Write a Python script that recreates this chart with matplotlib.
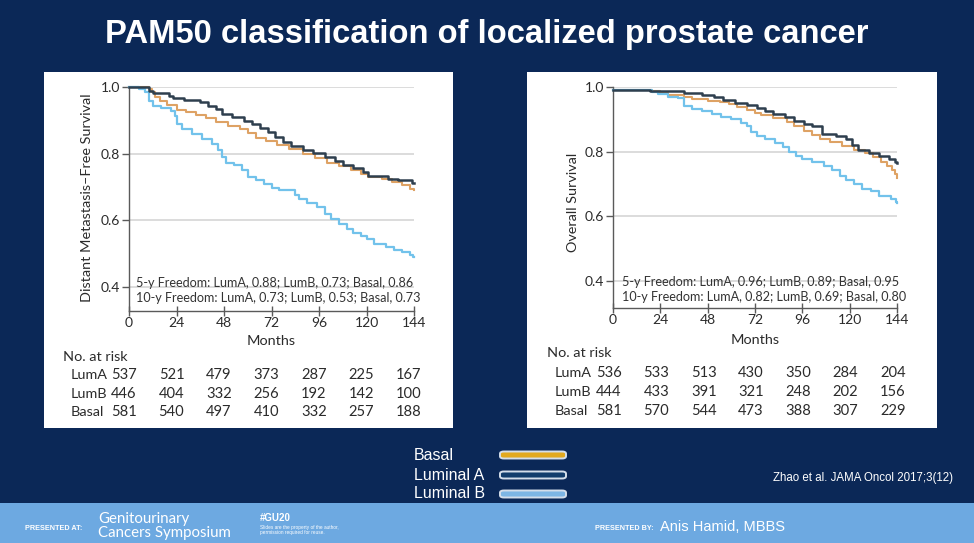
import matplotlib
matplotlib.use("Agg")
import matplotlib.pyplot as plt
from matplotlib import transforms
from matplotlib.patches import Rectangle, FancyBboxPatch

# ---------------- data ----------------
TITLE = "PAM50 classification of localized prostate cancer"
month_ticks = [0, 24, 48, 72, 96, 120, 144]
surv_ticks = [0.4, 0.6, 0.8, 1.0]
groups = ["LumA", "LumB", "Basal"]

# Left panel: distant metastasis-free survival (KM steps)
l_lumA_m = [0, 10, 12, 20, 22, 28, 36, 40, 44, 47, 52, 58, 62, 66, 70, 74, 78, 82, 88, 93, 99, 104, 108, 113, 118, 121, 131, 136, 143, 144]
l_lumA_s = [1.0, 0.99, 0.983, 0.975, 0.968, 0.963, 0.955, 0.945, 0.935, 0.92, 0.912, 0.9, 0.89, 0.877, 0.865, 0.85, 0.835, 0.822, 0.812, 0.802, 0.79, 0.778, 0.766, 0.756, 0.745, 0.732, 0.725, 0.72, 0.713, 0.713]
l_lumB_m = [0, 5, 8, 10, 12, 16, 21, 23, 24.5, 27, 32, 37, 42, 45, 47, 49, 53, 57, 60, 64, 68, 72, 76, 84, 86, 90, 95, 99, 102, 106, 110, 113, 117, 120, 124, 130, 134, 138, 142, 143.5, 144]
l_lumB_s = [1.0, 0.995, 0.985, 0.96, 0.945, 0.937, 0.93, 0.915, 0.89, 0.875, 0.86, 0.845, 0.83, 0.81, 0.79, 0.772, 0.765, 0.75, 0.73, 0.72, 0.71, 0.698, 0.69, 0.675, 0.665, 0.652, 0.64, 0.62, 0.605, 0.59, 0.575, 0.562, 0.553, 0.545, 0.53, 0.52, 0.512, 0.503, 0.495, 0.489, 0.489]
l_basal_m = [0, 10, 11.5, 13, 15.5, 19, 24, 29, 34, 39, 44, 50, 56, 60, 64, 69, 75, 81, 88, 94, 100, 106, 112, 117, 121, 128, 133, 138, 142, 144]
l_basal_s = [1.0, 0.995, 0.985, 0.972, 0.958, 0.947, 0.933, 0.927, 0.917, 0.907, 0.895, 0.885, 0.875, 0.862, 0.848, 0.838, 0.825, 0.815, 0.8, 0.788, 0.772, 0.762, 0.752, 0.74, 0.731, 0.724, 0.715, 0.705, 0.695, 0.69]

# Right panel: overall survival (KM steps)
r_lumA_m = [0, 19, 36, 45, 51, 56, 62, 68, 73, 77, 81, 87, 92, 97, 101, 106, 113, 118, 121, 124, 130, 135, 140, 143, 144]
r_lumA_s = [0.99, 0.988, 0.981, 0.975, 0.968, 0.96, 0.952, 0.945, 0.935, 0.925, 0.915, 0.906, 0.895, 0.885, 0.878, 0.855, 0.847, 0.838, 0.822, 0.805, 0.796, 0.786, 0.777, 0.768, 0.765]
r_lumB_m = [0, 20, 23, 28, 33, 36, 40, 45, 50, 55, 60, 65, 68, 70, 73, 77, 82, 86, 89, 93, 96, 101, 107, 111, 115, 118, 122, 126, 131, 135, 141, 143.5, 144]
r_lumB_s = [0.99, 0.985, 0.978, 0.97, 0.965, 0.942, 0.932, 0.925, 0.915, 0.908, 0.9, 0.89, 0.878, 0.862, 0.85, 0.84, 0.828, 0.815, 0.8, 0.788, 0.776, 0.767, 0.756, 0.742, 0.725, 0.712, 0.7, 0.685, 0.677, 0.662, 0.655, 0.645, 0.642]
r_basal_m = [0, 20, 24, 28, 36, 40, 48, 54, 59, 63, 68, 72, 75, 81, 88, 92, 97, 101, 105, 110, 116, 122, 128, 132, 136, 139, 141.5, 143, 144]
r_basal_s = [0.99, 0.987, 0.98, 0.976, 0.968, 0.963, 0.958, 0.953, 0.946, 0.938, 0.93, 0.92, 0.912, 0.904, 0.893, 0.88, 0.865, 0.853, 0.84, 0.83, 0.818, 0.806, 0.797, 0.783, 0.768, 0.755, 0.742, 0.73, 0.72]

# Number at risk
l_risk = {"LumA": [537, 521, 479, 373, 287, 225, 167],
          "LumB": [446, 404, 332, 256, 192, 142, 100],
          "Basal": [581, 540, 497, 410, 332, 257, 188]}
r_risk = {"LumA": [536, 533, 513, 430, 350, 284, 204],
          "LumB": [444, 433, 391, 321, 248, 202, 156],
          "Basal": [581, 570, 544, 473, 388, 307, 229]}

l_ylabel = "Distant Metastasis\u2013Free Survival"
r_ylabel = "Overall Survival"
l_notes = ["5-y Freedom: LumA, 0.88; LumB, 0.73; Basal, 0.86",
           "10-y Freedom: LumA, 0.73; LumB, 0.53; Basal, 0.73"]
r_notes = ["5-y Freedom: LumA, 0.96; LumB, 0.89; Basal, 0.95",
           "10-y Freedom: LumA, 0.82; LumB, 0.69; Basal, 0.80"]
legend_labels = ["Basal", "Luminal A", "Luminal B"]
citation = "Zhao et al. JAMA Oncol 2017;3(12)"
presenter = "Anis Hamid, MBBS"

# ---------------- style ----------------
NAVY = "#0B2857"
FOOT = "#6DA9E1"
C_LUMA = "#2E3F4E"
C_LUMB = "#72C2EB"
C_BASAL = "#DEA264"
LEG_COLORS = ["#E2A91F", "#123D6C", "#7DB6E4"]
TXT = "#2b2b2b"
CF = "Lato"      # chart font
SF = "Liberation Sans"

W, H = 974, 543
fig = plt.figure(figsize=(W / 100, H / 100), dpi=100)
fig.patch.set_facecolor(NAVY)


def fx(px):
    return px / W


def fy(py):
    return 1 - py / H


# white panels
for x0, x1 in [(44, 453), (527, 937)]:
    fig.add_artist(Rectangle((fx(x0), fy(428)), fx(x1 - x0), (428 - 72) / H,
                             transform=fig.transFigure, fc="white", ec="none", zorder=0))

# footer band
fig.add_artist(Rectangle((0, 0), 1, (H - 503) / H, transform=fig.transFigure,
                         fc=FOOT, ec="none", zorder=0))

fig.text(0.5, fy(35), TITLE, ha="center", va="center", color="white",
         fontsize=23.6, fontweight="bold", family=SF)


def make_panel(px_left, px_right, py_top, py_bot, ymin, series, risk, ylabel,
               ylab_xy, notes, notes_x, notes_y, months_y, risk_hdr, risk_lbl_x,
               risk_rows_y, num_off):
    ax = fig.add_axes([fx(px_left), fy(py_bot), (px_right - px_left) / W, (py_bot - py_top) / H])
    ax.set_facecolor("none")
    ax.set_xlim(0, 144)
    ax.set_ylim(ymin, 1.0)
    for sp in ["top", "right"]:
        ax.spines[sp].set_visible(False)
    for sp in ["left", "bottom"]:
        ax.spines[sp].set_color("#5a5a5a")
        ax.spines[sp].set_linewidth(1.0)
    ax.set_xticks(month_ticks)
    ax.set_yticks(surv_ticks)
    ax.set_yticklabels([f"{v:.1f}" for v in surv_ticks])
    ax.tick_params(axis="y", direction="out", length=5, width=1, color="#5a5a5a",
                   pad=1.5, labelsize=10, labelcolor=TXT)
    ax.tick_params(axis="x", direction="inout", length=7, width=1, color="#5a5a5a",
                   pad=1, labelsize=10, labelcolor=TXT)
    for lab in ax.get_xticklabels() + ax.get_yticklabels():
        lab.set_family(CF)
    ax.grid(axis="y", color="#dcdcdc", lw=1.4)
    ax.set_axisbelow(True)
    for m, s, c, lw in series:
        ax.step(m, s, where="post", color=c, lw=lw, clip_on=False, zorder=3)
    # annotations
    for t, yy in zip(notes, notes_y):
        fig.text(fx(notes_x), fy(yy), t, ha="left", va="center", fontsize=9.1,
                 family=CF, color="#333333")
    fig.text(ylab_xy[0] / W, fy(ylab_xy[1]), ylabel, rotation=90, ha="center",
             va="center", fontsize=10.4, family=CF, color=TXT)
    fig.text(fx((px_left + px_right) / 2), fy(months_y), "Months", ha="center",
             va="center", fontsize=10.4, family=CF, color=TXT)
    # risk table
    fig.text(fx(risk_hdr[0]), fy(risk_hdr[1]), "No. at risk", ha="left", va="center",
             fontsize=10.4, family=CF, color=TXT)
    tr = transforms.blended_transform_factory(ax.transData, fig.transFigure)
    tr = transforms.offset_copy(tr, fig=fig, x=num_off, y=0, units="dots")
    for g, yy in zip(groups, risk_rows_y):
        fig.text(fx(risk_lbl_x), fy(yy), g, ha="left", va="center", fontsize=10.4,
                 family=CF, color=TXT)
        for mth, n in zip(month_ticks, risk[g]):
            ax.text(mth, fy(yy), str(n), transform=tr, ha="center", va="center",
                    fontsize=10.6, family=CF, color=TXT, clip_on=False)
    return ax


make_panel(129, 414, 87.3, 311, 0.327,
           [(l_basal_m, l_basal_s, C_BASAL, 1.5), (l_lumB_m, l_lumB_s, C_LUMB, 1.6),
            (l_lumA_m, l_lumA_s, C_LUMA, 1.8)],
           l_risk, l_ylabel, (87, 198), l_notes, 136, [283, 297.5], 341,
           (63, 357), 71, [375, 393.5, 412], -5)

make_panel(613, 897, 87, 308, 0.3165,
           [(r_basal_m, r_basal_s, C_BASAL, 1.5), (r_lumB_m, r_lumB_s, C_LUMB, 1.6),
            (r_lumA_m, r_lumA_s, C_LUMA, 1.8)],
           r_risk, r_ylabel, (573, 202), r_notes, 622, [282, 297], 340,
           (547, 353), 555, [373, 392, 411], -4)

# legend (bottom)
for lab, col, yy in zip(legend_labels, LEG_COLORS, [455, 475, 494]):
    fig.text(fx(414), fy(yy), lab, ha="left", va="center", fontsize=11.5,
             family=SF, color="white")
    fig.add_artist(FancyBboxPatch((fx(500), fy(yy + 3.5)), fx(66), 7 / H,
                                  boxstyle="round,pad=0,rounding_size=0.004",
                                  transform=fig.transFigure, fc=col, ec="#D4DEEA",
                                  lw=1.4, zorder=2))

fig.text(fx(773), fy(478), citation, ha="left", va="center", fontsize=8.3,
         family=SF, color="white")

# footer texts
fig.text(fx(25), fy(528), "PRESENTED AT:", ha="left", va="center", fontsize=5.2,
         family=SF, fontweight="bold", color="white")
fig.text(fx(98), fy(519), "Genitourinary", ha="left", va="center", fontsize=10.8,
         family=CF, fontweight="normal", color="white")
fig.text(fx(98), fy(533), "Cancers Symposium", ha="left", va="center", fontsize=10.8,
         family=CF, fontweight="normal", color="white")
fig.text(fx(260), fy(518), "#GU20", ha="left", va="center", fontsize=7,
         family=SF, fontweight="bold", color="white")
fig.text(fx(260), fy(527), "Slides are the property of the author,", ha="left",
         va="center", fontsize=3.4, family=SF, color="white")
fig.text(fx(260), fy(532.5), "permission required for reuse.", ha="left",
         va="center", fontsize=3.4, family=SF, color="white")
fig.text(fx(595), fy(528), "PRESENTED BY:", ha="left", va="center", fontsize=5.2,
         family=SF, fontweight="bold", color="white")
fig.text(fx(660), fy(527), presenter, ha="left", va="center", fontsize=10.5,
         family=SF, color="white")

fig.savefig("out.png", dpi=100, facecolor=fig.get_facecolor())
